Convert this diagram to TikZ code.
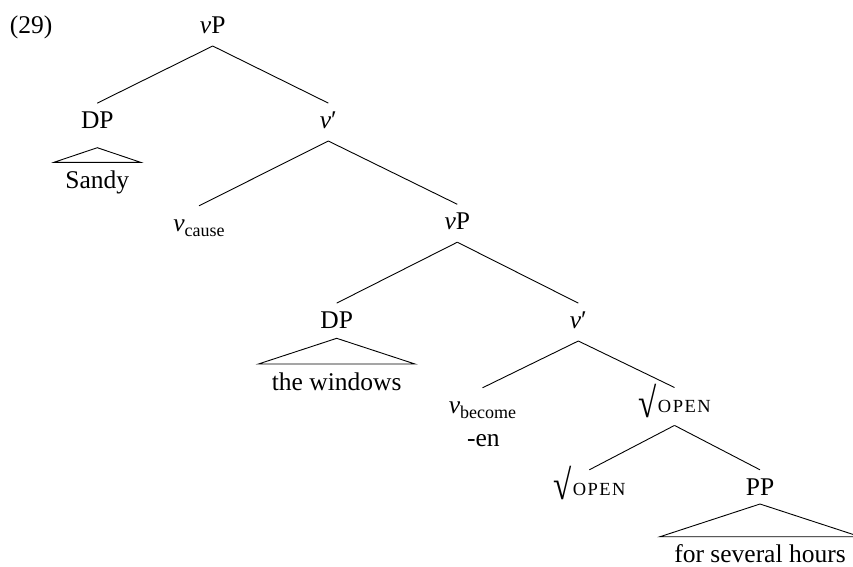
\documentclass[tikz,border=0pt]{standalone}
\usepackage{fontspec}
\setmainfont{Liberation Serif}
\usetikzlibrary{calc}
\newcommand\nuit{\textit{ν}}
\newcommand\subtxt[1]{\raisebox{-5pt}{\fontsize{18}{20}\selectfont #1}}
\newcommand\rootopen{\raisebox{-4.5pt}{\scalebox{1.3}[1.65]{√}}\kern1.5pt{\fontsize{18.5}{20}\selectfont O\kern1.5pt P\kern1.5pt E\kern1.5pt N}}
\tikzset{
  lab/.style={anchor=base, inner sep=0pt, text height=25pt, text depth=12.5pt,
              font=\fontsize{25.5}{30}\selectfont},
  br/.style={line width=0.9pt, line join=miter}
}
\begin{document}
\begin{tikzpicture}[x=1pt,y=-1pt]
\useasboundingbox (0,0) rectangle (853,566);
% labels
\node[lab] (ex) at (31,33.3) {(29)};
\node[lab] (vP1) at (212.7,33.3) {\nuit P};
\node[lab] (DP1) at (97.3,128.3) {DP};
\node[lab] (vbar1) at (328.3,128.3) {\nuit′};
\node[lab] (sandy) at (97.3,188.3) {Sandy};
\node[lab] (vcause) at (199,231) {\nuit\subtxt{cause}};
\node[lab] (vP2) at (457.3,229.5) {\nuit P};
\node[lab] (DP2) at (336.7,328.3) {DP};
\node[lab] (vbar2) at (578.3,328.3) {\nuit′};
\node[lab] (windows) at (336.7,390.5) {the windows};
\node[lab] (vbecome) at (482.5,413) {\nuit\subtxt{become}};
\node[lab] (en) at (483.3,446.5) {-en};
\node[lab] (open1) at (674.5,412.7) {\rootopen};
\node[lab] (open2) at (589.3,495) {\rootopen};
\node[lab] (PP) at (760,495) {PP};
\node[lab] (hours) at (760,562) {for several hours};
% branches
\draw[br] (vP1.south) -- (DP1.north);
\draw[br] (vP1.south) -- (vbar1.north);
\draw[br] (vbar1.south) -- (vcause.north);
\draw[br] (vbar1.south) -- (vP2.north);
\draw[br] (vP2.south) -- (DP2.north);
\draw[br] (vP2.south) -- (vbar2.north);
\draw[br] (vbar2.south) -- (vbecome.north);
\draw[br] (vbar2.south) -- (open1.north);
\draw[br] (open1.south) -- (open2.north);
\draw[br] (open1.south) -- (PP.north);
% triangles
\draw[br] ($(DP1.base)+(0,19.4)$) coordinate (t1) -- ++(-43.3,14.6) -- ++(86.6,0) -- cycle;
\draw[br] ($(DP2.base)+(0,10)$) coordinate (t2) -- ++(-78.3,25.7) -- ++(156.6,0) -- cycle;
\draw[br] ($(PP.base)+(0,9)$) coordinate (t3) -- ++(-100,32.7) -- ++(200,0) -- cycle;
\end{tikzpicture}
\end{document}
